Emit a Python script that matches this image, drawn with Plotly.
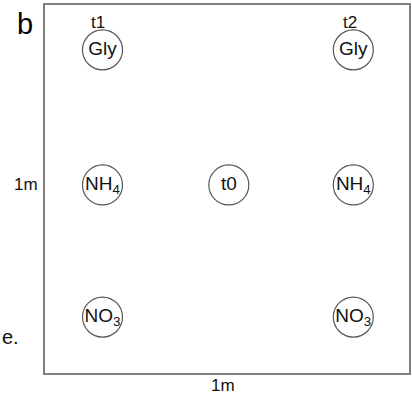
import plotly.graph_objects as go

# Sampling points (in metres within the 1 m x 1 m plot)
point_labels = ["Gly", "NH<sub>4</sub>", "NO<sub>3</sub>", "t0", "Gly", "NH<sub>4</sub>", "NO<sub>3</sub>"]
point_x = [0.158, 0.158, 0.158, 0.505, 0.847, 0.847, 0.847]
point_y = [0.878, 0.511, 0.152, 0.511, 0.878, 0.511, 0.152]

column_labels = ["t1", "t2"]
column_x = [0.145, 0.838]

FONT = "Liberation Sans, Arial, Helvetica, sans-serif"

fig = go.Figure()
fig.add_trace(go.Scatter(
    x=point_x, y=point_y, mode="markers+text",
    text=point_labels, textposition="middle center",
    textfont=dict(family=FONT, size=19, color="#111"),
    marker=dict(symbol="circle", size=40, color="white",
                line=dict(color="#555", width=1.2)),
    hoverinfo="skip", showlegend=False,
))

annotations = []
for lab, cx in zip(column_labels, column_x):
    annotations.append(dict(x=cx, y=0.952, xref="x", yref="y", text=lab,
                            showarrow=False, font=dict(family=FONT, size=17, color="#111"),
                            xanchor="center", yanchor="middle"))
annotations += [
    dict(x=-0.0546, y=0.948, xref="paper", yref="paper", text="b", showarrow=False,
         font=dict(family=FONT, size=29, color="#000"), xanchor="center", yanchor="middle"),
    dict(x=-0.052, y=0.511, xref="paper", yref="paper", text="1m", showarrow=False,
         font=dict(family=FONT, size=17, color="#111"), xanchor="center", yanchor="middle"),
    dict(x=0.489, y=-0.035, xref="paper", yref="paper", text="1m", showarrow=False,
         font=dict(family=FONT, size=17, color="#111"), xanchor="center", yanchor="middle"),
    dict(x=-0.123, y=0.098, xref="paper", yref="paper", text="e.", showarrow=False,
         font=dict(family=FONT, size=20, color="#111"), xanchor="left", yanchor="middle"),
]

axis_common = dict(range=[0, 1], showgrid=False, zeroline=False, showticklabels=False,
                   ticks="", showline=True, linecolor="#808080", linewidth=1.5, mirror=True,
                   fixedrange=True)
fig.update_layout(
    width=412, height=396,
    margin=dict(l=45, r=1, t=5, b=23),
    paper_bgcolor="white", plot_bgcolor="white",
    xaxis=axis_common, yaxis=axis_common,
    annotations=annotations,
)
fig.write_html("out.html")
